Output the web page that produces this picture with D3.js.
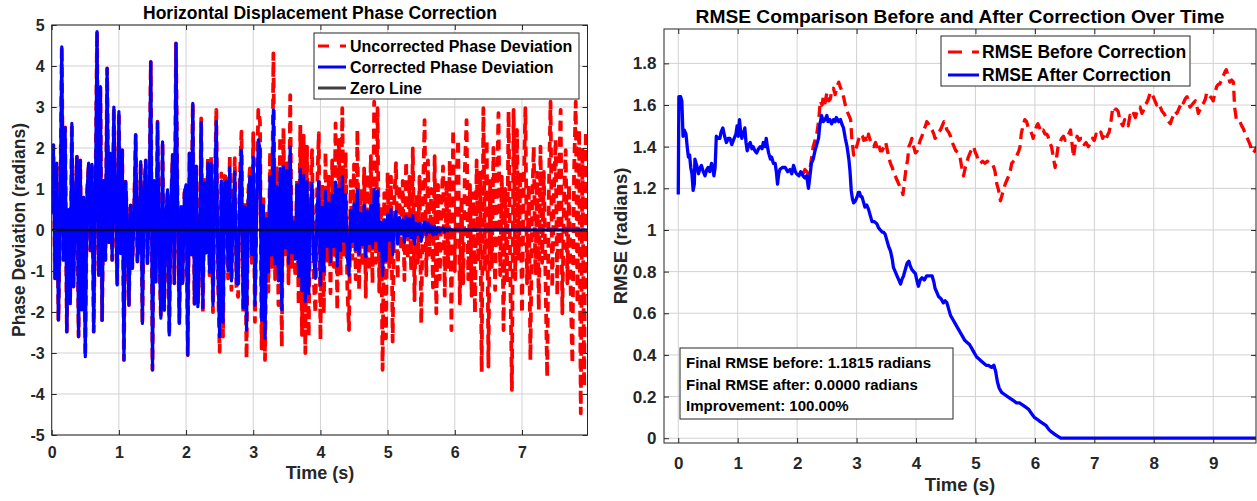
<!DOCTYPE html>
<html>
<head>
<meta charset="utf-8">
<script src="https://cdn.jsdelivr.net/npm/d3@7"></script>
<style>
body { margin: 0; background: #fff; }
svg { display: block; font-family: "Liberation Sans", Arial, sans-serif; font-weight: bold; }
</style>
</head>
<body>
<svg width="1257" height="501"></svg>
<script>
// ---- left panel: phase deviation, one sample every 0.025 s ----
const sampleStep = 0.025;

// 0 .. 2.175 s : correction not active yet, both curves identical
const phaseShared = [
  0.4, 2.07, -1.18, 1.63, -2.2, 0.2, 4.47, -0.73, 2.5, -2.48,
  0.5, -1.79, 2.6, -1.38, 0.6, 1.79, -2.6, 1.7, -1.95, 0.8,
  -3.09, 0.9, 1.63, -0.5, 1.6, -2.48, 0.7, 4.84, -1.1, 3.5,
  -2.2, 1.2, -0.73, 3.94, -0.3, 1.87, -0.73, 3.0, 0.5, -1.34,
  2.89, -0.57, 1.95, -3.17, 1.18, 0.2, -1.83, 0.6, -0.93, 0.4,
  2.32, -0.77, -0.3, 1.67, -2.28, 0.9, 1.7, -0.81, 0.5, 4.1,
  -3.41, 1.2, -1.26, 2.64, -0.5, -2.15, 2.15, -1.95, 0.3, 0.98,
  -2.56, 0.6, 1.83, -1.3, 4.55, 0.4, -2.28, 0.57, -1.3, 0.9,
  1.1, -3.05, 1.87, -0.6, 3.09, -1.8, 1.55, -1.87
];

// 2.2 .. 7.975 s
const uncorrectedTail = [
  -0.9, 2.72, -2.03, 1.22, -0.6, 1.79, -1.1, 1.79, -2.0, 0.8,
  2.93, -1.2, -2.97, 1.38, -2.6, 1.3, 1.4, -1.18, 1.79, -1.46,
  0.5, 1.75, -1.4, -1.63, 1.3, 2.4, -2.03, 0.7, -3.13, 0.9,
  1.5, -0.8, 2.36, -2.24, 0.6, 2.93, 2.64, -2.89, 0.8, -3.17,
  0.4, -1.5, 1.91, -0.9, 4.31, -1.2, 1.55, -1.83, 2.28, -2.85,
  2.48, -0.7, 1.7, -1.3, 3.29, -0.9, 0.3, -1.14, 1.22, -1.83,
  2.56, -2.56, 2.3, -3.0, 2.03, -2.6, 0.8, 1.95, -1.2, -2.03,
  0.9, 2.36, -2.68, 1.1, -2.03, 1.9, -0.8, 1.3, -1.54, 1.7,
  -0.9, 2.6, -1.95, 2.2, -1.1, 2.97, -0.6, 1.9, -1.4, -2.44,
  1.2, -0.7, 1.6, -1.2, 2.44, -1.46, 1.0, -0.9, 1.5, -1.63,
  1.38, -1.0, 1.8, -1.3, 3.13, -0.8, 2.97, -1.5, 0.6, -3.41,
  0.9, -2.64, 1.4, -0.9, 1.3, -2.72, 0.8, 1.63, -1.2, 1.1,
  -0.5, 1.2, -1.22, 1.67, -0.7, 1.3, -1.0, 1.99, -1.71, 0.9,
  -0.8, 1.3, -2.28, 0.7, 2.68, -1.1, 1.7, -0.6, 1.0, -1.4,
  1.8, -2.03, 1.1, -1.2, 0.6, 1.55, -1.6, 1.2, -0.9, 1.7,
  -2.44, 2.44, -1.0, 1.3, 2.2, -1.79, 0.8, -1.3, 1.5, 2.68,
  -1.2, 1.1, -1.6, 0.9, -2.03, 1.7, -0.8, 1.4, -3.46, 2.97,
  -1.0, 2.2, -3.33, 1.2, -0.9, 2.0, -1.46, 0.8, 2.85, -1.1,
  1.3, -2.44, 1.0, -1.3, 2.89, -1.0, -3.9, 2.93, -1.2, 2.44,
  -0.7, 1.42, -2.03, 0.9, 2.97, -1.3, 1.1, -3.17, 0.6, 2.03,
  -1.1, 1.4, -1.95, 2.03, -0.8, 1.42, -1.2, -3.58, 1.0, 3.13,
  -1.4, 0.9, 2.2, -1.6, 1.2, 2.93, -2.03, 0.7, 1.95, -1.3,
  1.1, -1.5, -3.25, 1.4, 3.13, -1.8, 2.44, -4.47, 2.0, -3.82,
  2.4, -1.6
];

const correctedTail = [
  -0.86, 2.62, -1.9, 1.15, -0.56, 1.63, -1.03, 1.62, -1.83, 0.72,
  2.65, -1.06, -2.6, 1.2, -2.25, 1.12, 1.2, -1.0, 1.52, -1.24,
  0.4, 1.42, -1.3, -1.32, 1.05, 1.95, -1.9, 0.56, -2.44, 0.72,
  1.3, -0.6, 1.77, -1.83, 0.45, 2.2, 1.98, -2.2, 0.6, -2.64,
  0.28, -1.02, 1.3, -0.61, 2.93, -0.82, 1.05, -1.24, 1.5, -1.94,
  1.54, -0.43, 1.45, -0.81, 2.03, -0.56, 0.19, -0.71, 1.1, -1.13,
  1.48, -1.48, 1.33, -1.74, 1.18, -1.55, 0.46, 1.13, -0.7, -1.18,
  0.45, 1.18, -1.34, 0.55, -1.0, 0.95, -0.4, 0.65, -0.77, 0.85,
  -0.4, 1.17, -0.88, 0.99, -0.5, 1.3, -0.27, 0.86, -0.63, -1.1,
  0.48, -0.28, 0.64, -0.48, 0.98, -0.58, 0.4, -0.36, 0.6, -0.65,
  0.46, -0.33, 0.6, -0.43, 1.0, -0.26, 0.95, -0.5, 0.2, -1.1,
  0.25, -0.74, 0.39, -0.25, 0.5, -0.6, 0.22, 0.45, -0.34, 0.31,
  -0.1, 0.24, -0.3, 0.33, -0.14, 0.28, -0.2, 0.35, -0.34, 0.16,
  -0.1, 0.16, -0.27, 0.08, 0.2, -0.12, 0.17, -0.06, 0.1, -0.12,
  0.09, -0.1, 0.05, -0.05, 0.03, 0.05, -0.05, 0.03, -0.02, 0.03,
  0, 0, 0, 0, 0, 0, 0, 0, 0, 0,
  0, 0, 0, 0, 0, 0, 0, 0, 0, 0,
  0, 0, 0, 0, 0, 0, 0, 0, 0, 0,
  0, 0, 0, 0, 0, 0, 0, 0, 0, 0,
  0, 0, 0, 0, 0, 0, 0, 0, 0, 0,
  0, 0, 0, 0, 0, 0, 0, 0, 0, 0,
  0, 0, 0, 0, 0, 0, 0, 0, 0, 0,
  0, 0, 0, 0, 0, 0, 0, 0, 0, 0,
  0, 0
];

const zeroLine = [[0, 0], [7.975, 0]];

const phaseTicksX = [0, 1, 2, 3, 4, 5, 6, 7];
const phaseTicksY = [-5, -4, -3, -2, -1, 0, 1, 2, 3, 4, 5];
const phaseLegend = ["Uncorrected Phase Deviation", "Corrected Phase Deviation", "Zero Line"];

// ---- right panel: running RMSE [time, value] ----
const rmseAfter = [
  [0, 1.17], [0.01, 1.64], [0.04, 1.64], [0.06, 1.62], [0.08, 1.45], [0.10, 1.48], [0.13, 1.46],
  [0.15, 1.40], [0.17, 1.35], [0.19, 1.36], [0.21, 1.30], [0.23, 1.27], [0.25, 1.19], [0.27, 1.22],
  [0.28, 1.34], [0.31, 1.31], [0.34, 1.27], [0.37, 1.30], [0.39, 1.31], [0.42, 1.28], [0.45, 1.26],
  [0.48, 1.29], [0.50, 1.30], [0.53, 1.28], [0.56, 1.32], [0.58, 1.30], [0.60, 1.26], [0.62, 1.30],
  [0.64, 1.45], [0.67, 1.44], [0.70, 1.44], [0.72, 1.47], [0.75, 1.49], [0.78, 1.45], [0.81, 1.42],
  [0.84, 1.44], [0.87, 1.44], [0.90, 1.41], [0.94, 1.44], [0.97, 1.46], [0.99, 1.50], [1.01, 1.45],
  [1.03, 1.53], [1.05, 1.47], [1.07, 1.44], [1.10, 1.47], [1.12, 1.49], [1.14, 1.42], [1.16, 1.38],
  [1.19, 1.41], [1.21, 1.42], [1.24, 1.39], [1.26, 1.40], [1.29, 1.38], [1.32, 1.37], [1.35, 1.39],
  [1.38, 1.40], [1.41, 1.39], [1.43, 1.42], [1.46, 1.40], [1.48, 1.44], [1.50, 1.40], [1.52, 1.37],
  [1.55, 1.34], [1.57, 1.35], [1.60, 1.32], [1.63, 1.32], [1.65, 1.28], [1.67, 1.22], [1.69, 1.27],
  [1.71, 1.29], [1.75, 1.30], [1.80, 1.30], [1.84, 1.28], [1.88, 1.29], [1.91, 1.27], [1.94, 1.31],
  [1.97, 1.28], [1.99, 1.27], [2.03, 1.26], [2.06, 1.28], [2.10, 1.26], [2.13, 1.25], [2.16, 1.26],
  [2.19, 1.20], [2.22, 1.27], [2.24, 1.32], [2.27, 1.34], [2.30, 1.38], [2.33, 1.41], [2.36, 1.44],
  [2.38, 1.50], [2.41, 1.55], [2.44, 1.52], [2.47, 1.53], [2.50, 1.55], [2.52, 1.52], [2.55, 1.53],
  [2.58, 1.51], [2.61, 1.53], [2.64, 1.52], [2.66, 1.54], [2.70, 1.52], [2.73, 1.53], [2.75, 1.51],
  [2.78, 1.49], [2.81, 1.44], [2.84, 1.40], [2.87, 1.34], [2.89, 1.28], [2.91, 1.19], [2.93, 1.15],
  [2.95, 1.13], [2.98, 1.14], [3.01, 1.16], [3.03, 1.18], [3.05, 1.18], [3.07, 1.16], [3.09, 1.16],
  [3.12, 1.13], [3.14, 1.11], [3.17, 1.12], [3.20, 1.10], [3.23, 1.07], [3.26, 1.04], [3.30, 1.04],
  [3.34, 1.03], [3.37, 1.01], [3.40, 1.00], [3.43, 0.99], [3.45, 0.99], [3.48, 0.98], [3.51, 0.95],
  [3.54, 0.92], [3.57, 0.90], [3.60, 0.86], [3.62, 0.82], [3.65, 0.80], [3.68, 0.78], [3.71, 0.76],
  [3.74, 0.74], [3.76, 0.76], [3.79, 0.78], [3.82, 0.81], [3.85, 0.84], [3.88, 0.85], [3.90, 0.83],
  [3.93, 0.81], [3.96, 0.80], [3.99, 0.79], [4.02, 0.75], [4.04, 0.73], [4.07, 0.76], [4.10, 0.77],
  [4.14, 0.76], [4.18, 0.78], [4.22, 0.78], [4.27, 0.78], [4.30, 0.75], [4.32, 0.72], [4.35, 0.70],
  [4.38, 0.68], [4.42, 0.67], [4.46, 0.65], [4.49, 0.66], [4.52, 0.65], [4.55, 0.62], [4.58, 0.59],
  [4.62, 0.57], [4.66, 0.55], [4.70, 0.53], [4.74, 0.51], [4.78, 0.49], [4.82, 0.47], [4.86, 0.46],
  [4.90, 0.45], [4.94, 0.43], [4.98, 0.41], [5.02, 0.39], [5.06, 0.38], [5.10, 0.37], [5.14, 0.36],
  [5.18, 0.35], [5.22, 0.35], [5.27, 0.34], [5.31, 0.35], [5.34, 0.32], [5.37, 0.27], [5.40, 0.24],
  [5.44, 0.22], [5.49, 0.21], [5.54, 0.20], [5.59, 0.19], [5.64, 0.18], [5.69, 0.17], [5.74, 0.17],
  [5.79, 0.16], [5.84, 0.15], [5.89, 0.14], [5.94, 0.12], [5.99, 0.10], [6.04, 0.09], [6.09, 0.08],
  [6.14, 0.07], [6.19, 0.06], [6.24, 0.04], [6.28, 0.03], [6.33, 0.02], [6.38, 0.01], [6.44, 0.00],
  [9.72, 0.00]
];

const rmseBefore = [
  [2.10, 1.27], [2.13, 1.29], [2.16, 1.28], [2.19, 1.27], [2.22, 1.30], [2.25, 1.36], [2.27, 1.40],
  [2.30, 1.43], [2.33, 1.46], [2.36, 1.52], [2.39, 1.62], [2.42, 1.60], [2.44, 1.64], [2.47, 1.61],
  [2.50, 1.66], [2.53, 1.62], [2.56, 1.63], [2.58, 1.67], [2.61, 1.68], [2.64, 1.65], [2.67, 1.69],
  [2.70, 1.71], [2.72, 1.69], [2.75, 1.67], [2.78, 1.64], [2.81, 1.60], [2.84, 1.57], [2.87, 1.55],
  [2.90, 1.53], [2.92, 1.44], [2.95, 1.36], [2.98, 1.38], [3.01, 1.41], [3.04, 1.44], [3.07, 1.46],
  [3.10, 1.45], [3.12, 1.43], [3.15, 1.44], [3.18, 1.42], [3.20, 1.46], [3.23, 1.43], [3.26, 1.41],
  [3.29, 1.40], [3.32, 1.42], [3.35, 1.39], [3.37, 1.41], [3.40, 1.38], [3.43, 1.38], [3.46, 1.40],
  [3.49, 1.42], [3.52, 1.38], [3.54, 1.35], [3.57, 1.32], [3.60, 1.30], [3.62, 1.28], [3.65, 1.26],
  [3.68, 1.24], [3.71, 1.22], [3.74, 1.20], [3.76, 1.19], [3.78, 1.17], [3.80, 1.22], [3.83, 1.29],
  [3.86, 1.34], [3.88, 1.40], [3.91, 1.42], [3.93, 1.44], [3.96, 1.40], [3.99, 1.37], [4.02, 1.38],
  [4.04, 1.40], [4.07, 1.43], [4.10, 1.45], [4.13, 1.48], [4.16, 1.50], [4.18, 1.52], [4.21, 1.51],
  [4.24, 1.49], [4.27, 1.48], [4.30, 1.46], [4.32, 1.44], [4.35, 1.45], [4.38, 1.47], [4.41, 1.48],
  [4.44, 1.50], [4.47, 1.52], [4.49, 1.51], [4.52, 1.48], [4.55, 1.47], [4.58, 1.45], [4.61, 1.42],
  [4.64, 1.40], [4.67, 1.38], [4.71, 1.37], [4.74, 1.35], [4.77, 1.30], [4.80, 1.26], [4.83, 1.30],
  [4.85, 1.32], [4.88, 1.35], [4.91, 1.37], [4.94, 1.39], [4.97, 1.40], [5.00, 1.37], [5.02, 1.36],
  [5.05, 1.33], [5.08, 1.32], [5.12, 1.33], [5.16, 1.32], [5.20, 1.33], [5.24, 1.32], [5.28, 1.32],
  [5.31, 1.30], [5.33, 1.28], [5.36, 1.22], [5.39, 1.19], [5.42, 1.14], [5.45, 1.17], [5.47, 1.19],
  [5.50, 1.22], [5.53, 1.24], [5.56, 1.26], [5.59, 1.29], [5.61, 1.32], [5.64, 1.33], [5.67, 1.34],
  [5.70, 1.36], [5.73, 1.38], [5.75, 1.40], [5.77, 1.46], [5.80, 1.50], [5.83, 1.53], [5.86, 1.52],
  [5.89, 1.49], [5.92, 1.48], [5.95, 1.46], [5.97, 1.44], [6.00, 1.47], [6.03, 1.50], [6.05, 1.51],
  [6.08, 1.49], [6.11, 1.47], [6.14, 1.48], [6.17, 1.46], [6.20, 1.46], [6.22, 1.45], [6.25, 1.42],
  [6.28, 1.40], [6.31, 1.35], [6.34, 1.30], [6.36, 1.34], [6.39, 1.40], [6.42, 1.42], [6.45, 1.44],
  [6.48, 1.45], [6.51, 1.43], [6.54, 1.44], [6.57, 1.46], [6.60, 1.48], [6.63, 1.40], [6.65, 1.35],
  [6.68, 1.41], [6.71, 1.45], [6.74, 1.43], [6.77, 1.44], [6.80, 1.44], [6.83, 1.41], [6.86, 1.42],
  [6.90, 1.40], [6.94, 1.42], [6.97, 1.44], [7.00, 1.43], [7.03, 1.46], [7.07, 1.45], [7.11, 1.47],
  [7.14, 1.44], [7.17, 1.46], [7.20, 1.44], [7.23, 1.46], [7.25, 1.47], [7.28, 1.52], [7.31, 1.59],
  [7.34, 1.58], [7.37, 1.58], [7.40, 1.57], [7.43, 1.53], [7.46, 1.51], [7.48, 1.50], [7.51, 1.53],
  [7.54, 1.52], [7.57, 1.50], [7.60, 1.55], [7.63, 1.54], [7.66, 1.56], [7.69, 1.54], [7.71, 1.56],
  [7.74, 1.58], [7.77, 1.59], [7.80, 1.56], [7.82, 1.57], [7.85, 1.60], [7.88, 1.61], [7.91, 1.63],
  [7.94, 1.66], [7.96, 1.66], [7.99, 1.64], [8.02, 1.62], [8.05, 1.60], [8.08, 1.61], [8.11, 1.59],
  [8.14, 1.57], [8.17, 1.56], [8.19, 1.55], [8.22, 1.53], [8.25, 1.52], [8.28, 1.51], [8.30, 1.53],
  [8.33, 1.55], [8.36, 1.57], [8.39, 1.56], [8.42, 1.58], [8.45, 1.60], [8.47, 1.62], [8.50, 1.61],
  [8.53, 1.63], [8.56, 1.64], [8.59, 1.61], [8.61, 1.59], [8.64, 1.60], [8.67, 1.61], [8.70, 1.62],
  [8.72, 1.60], [8.75, 1.56], [8.78, 1.58], [8.81, 1.60], [8.84, 1.61], [8.87, 1.63], [8.89, 1.66],
  [8.92, 1.65], [8.95, 1.64], [8.98, 1.63], [9.00, 1.62], [9.03, 1.66], [9.06, 1.69], [9.09, 1.70],
  [9.11, 1.70], [9.14, 1.72], [9.17, 1.74], [9.20, 1.76], [9.22, 1.77], [9.25, 1.74], [9.28, 1.71],
  [9.31, 1.72], [9.34, 1.71], [9.36, 1.59], [9.39, 1.53], [9.42, 1.52], [9.45, 1.52], [9.48, 1.50],
  [9.50, 1.49], [9.53, 1.47], [9.56, 1.45], [9.59, 1.43], [9.62, 1.41], [9.64, 1.39], [9.67, 1.37],
  [9.70, 1.38], [9.73, 1.40]
];

const rmseTicksX = [0, 1, 2, 3, 4, 5, 6, 7, 8, 9];
const rmseTicksY = [0, 0.2, 0.4, 0.6, 0.8, 1, 1.2, 1.4, 1.6, 1.8];
const rmseLegend = ["RMSE Before Correction", "RMSE After Correction"];
const statsLines = [
  "Final RMSE before: 1.1815 radians",
  "Final RMSE after: 0.0000 radians",
  "Improvement: 100.00%"
];

const red = "#ff0000", blue = "#0000ff", boxColor = "#262626", gridColor = "#d2d2d2";
const svg = d3.select("svg");

// light grid at the major ticks
function drawGrid(x, y, xTicks, yTicks) {
  const [x0, x1] = x.range(), [y0, y1] = y.range();
  const g = svg.append("g");
  g.append("g").selectAll("line").data(xTicks).join("line")
    .attr("x1", d => x(d)).attr("x2", d => x(d))
    .attr("y1", y1).attr("y2", y0)
    .attr("stroke", gridColor).attr("stroke-width", 1);
  g.append("g").selectAll("line").data(yTicks).join("line")
    .attr("x1", x0).attr("x2", x1)
    .attr("y1", d => y(d)).attr("y2", d => y(d))
    .attr("stroke", gridColor).attr("stroke-width", 1);
}

// inward ticks on all four sides, labels left/bottom, box
function drawAxes(x, y, xTicks, yTicks, opt) {
  const [x0, x1] = x.range(), [y0, y1] = y.range();
  const fmt = d => String(d);

  const ax = [
    svg.append("g").attr("transform", `translate(0,${y0})`)
      .call(d3.axisBottom(x).tickValues(xTicks).tickFormat(fmt).tickSize(-5).tickPadding(opt.xPad)),
    svg.append("g").attr("transform", `translate(${x0},0)`)
      .call(d3.axisLeft(y).tickValues(yTicks).tickFormat(fmt).tickSize(-5).tickPadding(opt.yPad)),
    svg.append("g").attr("transform", `translate(0,${y1})`)
      .call(d3.axisTop(x).tickValues(xTicks).tickFormat("").tickSize(-5)),
    svg.append("g").attr("transform", `translate(${x1},0)`)
      .call(d3.axisRight(y).tickValues(yTicks).tickFormat("").tickSize(-5))
  ];
  ax.forEach(a => {
    a.select(".domain").remove();
    a.selectAll(".tick line").attr("stroke", boxColor);
    a.selectAll(".tick text")
      .attr("fill", "#262626")
      .attr("font-family", "Liberation Sans, Arial, sans-serif")
      .attr("font-weight", "bold")
      .attr("font-size", opt.tickFont);
  });

  svg.append("rect")
    .attr("x", x0).attr("y", y1)
    .attr("width", x1 - x0).attr("height", y0 - y1)
    .attr("fill", "none").attr("stroke", boxColor).attr("stroke-width", 1);
}

function clipFor(id, x, y) {
  const [x0, x1] = x.range(), [y0, y1] = y.range();
  svg.append("clipPath").attr("id", id)
    .append("rect").attr("x", x0).attr("y", y1)
    .attr("width", x1 - x0).attr("height", y0 - y1);
  return `url(#${id})`;
}

// ================= left panel =================
const uncorrected = phaseShared.concat(uncorrectedTail);
const corrected = phaseShared.concat(correctedTail);

const xL = d3.scaleLinear().domain([0, 7.975]).range([51.7, 587.5]);
const yL = d3.scaleLinear().domain([-5, 5]).range([435, 25]);

drawGrid(xL, yL, phaseTicksX, phaseTicksY);
const clipL = clipFor("clipL", xL, yL);

const phaseLine = d3.line()
  .x((d, i) => xL(i * sampleStep))
  .y(d => yL(d));

svg.append("path")
  .attr("clip-path", clipL)
  .attr("d", phaseLine(uncorrected))
  .attr("fill", "none").attr("stroke", red)
  .attr("stroke-width", 3.8).attr("stroke-dasharray", "10,6")
  .attr("stroke-linejoin", "round");

svg.append("path")
  .attr("clip-path", clipL)
  .attr("d", phaseLine(corrected))
  .attr("fill", "none").attr("stroke", blue)
  .attr("stroke-width", 3.2).attr("stroke-linejoin", "round");

svg.append("path")
  .attr("clip-path", clipL)
  .attr("d", d3.line().x(d => xL(d[0])).y(d => yL(d[1]))(zeroLine))
  .attr("fill", "none").attr("stroke", "#000").attr("stroke-opacity", 0.75)
  .attr("stroke-width", 2.5);

drawAxes(xL, yL, phaseTicksX, phaseTicksY, { xPad: 12, yPad: 7, tickFont: 16 });

svg.append("text")
  .attr("x", 320).attr("y", 19)
  .attr("text-anchor", "middle").attr("font-size", 17.5).attr("fill", "#000")
  .text("Horizontal Displacement Phase Correction");
svg.append("text")
  .attr("x", 320).attr("y", 479)
  .attr("text-anchor", "middle").attr("font-size", 18).attr("fill", "#262626")
  .text("Time (s)");
svg.append("text")
  .attr("transform", "translate(19,230) rotate(-90)")
  .attr("dy", "0.35em")
  .attr("text-anchor", "middle").attr("font-size", 17.5).attr("fill", "#262626")
  .text("Phase Deviation (radians)");

// legend
const legL = svg.append("g");
legL.append("rect")
  .attr("x", 314).attr("y", 33).attr("width", 265).attr("height", 66)
  .attr("fill", "#fff").attr("stroke", boxColor).attr("stroke-width", 1);
const legLStyles = [
  { stroke: red, dash: "11,11", opacity: 1 },
  { stroke: blue, dash: null, opacity: 1 },
  { stroke: "#000", dash: null, opacity: 0.75 }
];
phaseLegend.forEach((name, i) => {
  const cy = 46 + i * 21;
  legL.append("line")
    .attr("x1", 318).attr("x2", 346).attr("y1", cy).attr("y2", cy)
    .attr("stroke", legLStyles[i].stroke).attr("stroke-width", 3)
    .attr("stroke-opacity", legLStyles[i].opacity)
    .attr("stroke-dasharray", legLStyles[i].dash);
  legL.append("text")
    .attr("x", 350).attr("y", cy + 5.8)
    .attr("font-size", 16).attr("fill", "#000")
    .text(name);
});

// ================= right panel =================
const xR = d3.scaleLinear().domain([-0.24, 9.72]).range([664, 1256]);
const yR = d3.scaleLinear().domain([-0.023, 1.965]).range([443, 29]);

drawGrid(xR, yR, rmseTicksX, rmseTicksY);
const clipR = clipFor("clipR", xR, yR);

const rmseLine = d3.line()
  .x(d => xR(d[0]))
  .y(d => yR(d[1]));

svg.append("path")
  .attr("clip-path", clipR)
  .attr("d", rmseLine(rmseBefore))
  .attr("fill", "none").attr("stroke", red)
  .attr("stroke-width", 3.3).attr("stroke-dasharray", "11,6")
  .attr("stroke-linejoin", "round");

svg.append("path")
  .attr("clip-path", clipR)
  .attr("d", rmseLine(rmseAfter))
  .attr("fill", "none").attr("stroke", blue)
  .attr("stroke-width", 3.3).attr("stroke-linejoin", "round");

drawAxes(xR, yR, rmseTicksX, rmseTicksY, { xPad: 14, yPad: 7.5, tickFont: 17 });

svg.append("text")
  .attr("x", 960).attr("y", 23)
  .attr("text-anchor", "middle").attr("font-size", 19.2).attr("fill", "#000")
  .text("RMSE Comparison Before and After Correction Over Time");
svg.append("text")
  .attr("x", 960).attr("y", 491)
  .attr("text-anchor", "middle").attr("font-size", 18.5).attr("fill", "#262626")
  .text("Time (s)");
svg.append("text")
  .attr("transform", "translate(621,236) rotate(-90)")
  .attr("dy", "0.35em")
  .attr("text-anchor", "middle").attr("font-size", 18.5).attr("fill", "#262626")
  .text("RMSE (radians)");

const legR = svg.append("g");
legR.append("rect")
  .attr("x", 941).attr("y", 36).attr("width", 249).attr("height", 50)
  .attr("fill", "#fff").attr("stroke", boxColor).attr("stroke-width", 1);
const legRStyles = [
  { stroke: red, dash: "14,10" },
  { stroke: blue, dash: null }
];
rmseLegend.forEach((name, i) => {
  const cy = 52 + i * 23;
  legR.append("line")
    .attr("x1", 948).attr("x2", 979).attr("y1", cy).attr("y2", cy)
    .attr("stroke", legRStyles[i].stroke).attr("stroke-width", 3)
    .attr("stroke-dasharray", legRStyles[i].dash);
  legR.append("text")
    .attr("x", 982).attr("y", cy + 6.3)
    .attr("font-size", 17.5).attr("fill", "#000")
    .text(name);
});

// statistics box
const stats = svg.append("g");
stats.append("rect")
  .attr("x", 680).attr("y", 348).attr("width", 273).attr("height", 71)
  .attr("fill", "#fff").attr("stroke", boxColor).attr("stroke-width", 1);
statsLines.forEach((line, i) => {
  stats.append("text")
    .attr("x", 686).attr("y", 368 + i * 21.5)
    .attr("font-size", 15).attr("fill", "#000")
    .text(line);
});
</script>
</body>
</html>
